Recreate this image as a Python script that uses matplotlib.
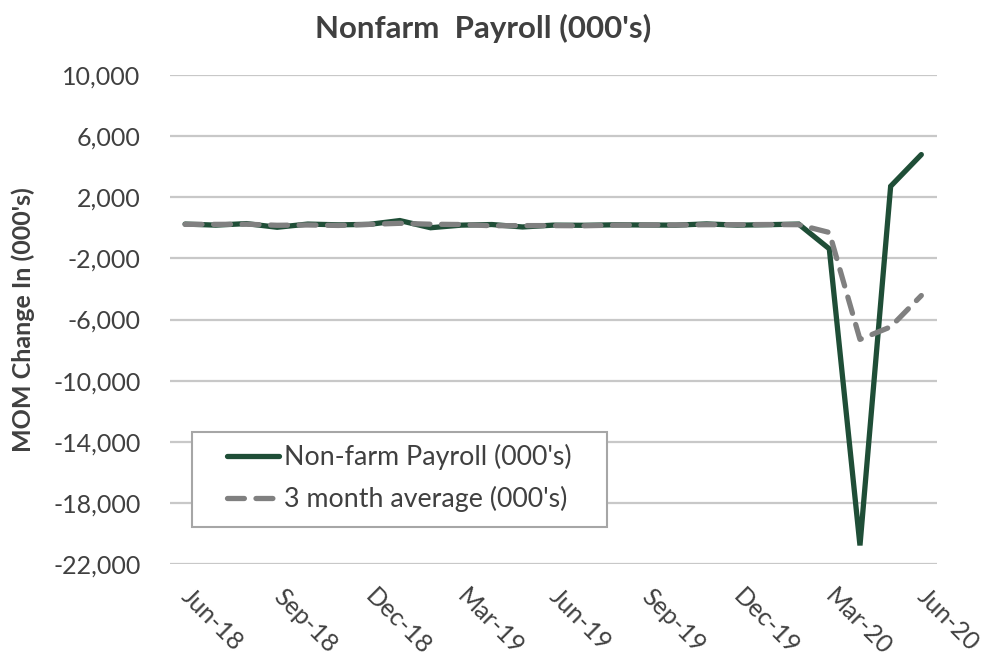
import matplotlib
matplotlib.use("Agg")
import matplotlib.pyplot as plt
from matplotlib.patches import Rectangle
from matplotlib.ticker import FuncFormatter

plt.rcParams['font.family'] = ['Lato', 'DejaVu Sans']

months = ["Jun-18", "Jul-18", "Aug-18", "Sep-18", "Oct-18", "Nov-18", "Dec-18",
          "Jan-19", "Feb-19", "Mar-19", "Apr-19", "May-19", "Jun-19", "Jul-19",
          "Aug-19", "Sep-19", "Oct-19", "Nov-19", "Dec-19", "Jan-20", "Feb-20",
          "Mar-20", "Apr-20", "May-20", "Jun-20"]
payroll = [250, 180, 280, 40, 250, 200, 230, 480, 10, 180, 220, 60, 180, 170,
           200, 190, 180, 260, 180, 210, 250, -1370, -20790, 2725, 4800]
avg3 = [230, 230, 240, 170, 190, 160, 230, 300, 240, 220, 140, 150, 150, 140,
        180, 190, 190, 210, 210, 220, 210, -300, -7300, -6480, -4430]
tick_labels = ["Jun-18", "Sep-18", "Dec-18", "Mar-19", "Jun-19", "Sep-19",
               "Dec-19", "Mar-20", "Jun-20"]
yticks = [10000, 6000, 2000, -2000, -6000, -10000, -14000, -18000, -22000]

fig = plt.figure(figsize=(9.87, 6.65), dpi=100)
ax = fig.add_axes([0.172, 0.152, 0.777, 0.735])

x = list(range(len(months)))
ax.plot(x, payroll, color='#1F4E37', lw=3.8, solid_capstyle='round',
        solid_joinstyle='miter', label="Non-farm Payroll (000's)", zorder=3)
ax.plot(x, avg3, color='#808080', lw=3.8, dashes=(3.2, 2.2),
        dash_capstyle='round', label="3 month average (000's)", zorder=4)

ax.set_xlim(-0.5, len(months) - 0.5)
ax.set_ylim(-22000, 10000)
ax.set_yticks(yticks)
ax.yaxis.set_major_formatter(FuncFormatter(lambda v, p: f"{int(v):,}"))
tick_pos = [months.index(t) for t in tick_labels]
ax.set_xticks(tick_pos)
ax.set_xticklabels(tick_labels, rotation=-45, ha='left', va='center',
                   rotation_mode='anchor', fontsize=18, color='#404040')
ax.tick_params(axis='x', length=0, pad=21)
ax.tick_params(axis='y', length=0, pad=21, labelsize=18, labelcolor='#404040')
ax.grid(axis='y', color='#C8C8C8', lw=1.6)
ax.set_axisbelow(True)
for s in ax.spines.values():
    s.set_visible(False)

ax.set_ylabel("MOM Change In (000's)", fontsize=18, fontweight='bold',
              color='#404040', labelpad=13)
fig.text(0.489, 0.957, "Nonfarm  Payroll (000's)", ha='center', va='center',
         fontsize=22.5, fontweight='bold', color='#404040')

frame = Rectangle((0.0287, 0.0757), 0.541, 0.194, transform=ax.transAxes,
                  facecolor='white', edgecolor='#A6A6A6', lw=1.5, zorder=5)
ax.add_patch(frame)
leg = ax.legend(loc='upper left', bbox_to_anchor=(0.0743, 0.245), fontsize=19.3,
                frameon=False, handlelength=1.95, handletextpad=0.2,
                labelcolor='#404040', borderpad=0, labelspacing=0.6,
                borderaxespad=0)
leg.set_zorder(6)

fig.savefig("out.png", dpi=100)
